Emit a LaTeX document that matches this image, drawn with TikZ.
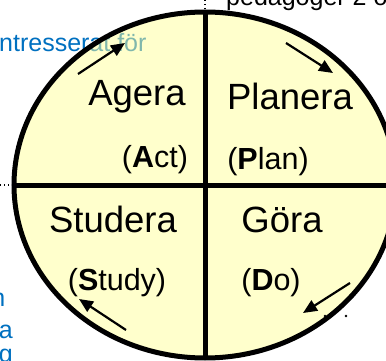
\documentclass[tikz,border=0pt]{standalone}
\usepackage{fontspec}
\setmainfont{Liberation Sans}
\usetikzlibrary{arrows.meta,shapes.geometric}
\definecolor{pdcayellow}{RGB}{255,255,153}
\definecolor{slideblue}{RGB}{0,112,192}
\begin{document}
\begin{tikzpicture}[x=1pt,y=-1pt,
  bigword/.style={font=\fontsize{36.5}{40}\selectfont, inner sep=0pt, anchor=base},
  smallword/.style={font=\fontsize{30.5}{34}\selectfont, inner sep=0pt, anchor=base},
  bgtext/.style={font=\fontsize{25}{30}\selectfont, inner sep=0pt},
  cyclearrow/.style={line width=2.2pt, -{Triangle[length=14pt,width=12pt]}},
  divider/.style={line width=5pt},
  dotline/.style={line width=1.4pt, dash pattern=on 1.4pt off 2.6pt}]
\useasboundingbox (0,0) rectangle (386,361);
\clip (0,0) rectangle (386,361);
% background slide text (partly hidden)
\node[bgtext, anchor=base west] (t1) at (-1,52) {\color{slideblue}ntresserat för};
\node[bgtext, anchor=base west] (t2) at (226,6) {pedagoger 2 o};
\node[bgtext, anchor=base east, text=slideblue] (t3) at (5.5,306) {n};
\node[bgtext, anchor=base east, text=slideblue] (t4) at (13,338) {a};
\node[bgtext, anchor=base east, text=slideblue] (t5) at (13,362) {g};
% circle
\node[ellipse, minimum width=382pt, minimum height=346pt, inner sep=0pt, outer sep=0pt,
      fill=pdcayellow, fill opacity=0.5] (c) at (205,185) {};
\node[ellipse, minimum width=382pt, minimum height=346pt, inner sep=0pt, outer sep=0pt,
      draw, line width=5pt] (cb) at (205,185) {};
\draw[divider] (c.north) -- (c.south);
\draw[divider] (c.west) -- (c.east);
% dotted fragments
\coordinate (dl) at (0,185);
\draw[dotline] (dl) -- (c.west);
\coordinate (dt1) at (205,0);
\coordinate (dt2) at (205,9);
\draw[dotline] (dt1) -- (dt2);
\fill (325,316) circle (1.3pt);
\fill (346,316) circle (1.3pt);
% words
\node[bigword] (agera) at (137,106) {Agera};
\node[bigword] (planera) at (290,110) {Planera};
\node[bigword] (studera) at (113,232) {Studera};
\node[bigword] (gora) at (282,232) {Göra};
\node[smallword] (act) at (155,167) {(\textbf{A}ct)};
\node[smallword] (plan) at (268,169) {(\textbf{P}lan)};
\node[smallword] (study) at (117,290) {(\textbf{S}tudy)};
\node[smallword] (do) at (271,290) {(\textbf{D}o)};
% cycle arrows
\coordinate (a1s) at (78,74);   \coordinate (a1e) at (125,43);
\coordinate (a2s) at (286,43);  \coordinate (a2e) at (333,73);
\coordinate (a3s) at (350,283); \coordinate (a3e) at (303,313);
\coordinate (a4s) at (126,330); \coordinate (a4e) at (79,299);
\draw[cyclearrow] (a1s) -- (a1e);
\draw[cyclearrow] (a2s) -- (a2e);
\draw[cyclearrow] (a3s) -- (a3e);
\draw[cyclearrow] (a4s) -- (a4e);
\end{tikzpicture}
\end{document}
